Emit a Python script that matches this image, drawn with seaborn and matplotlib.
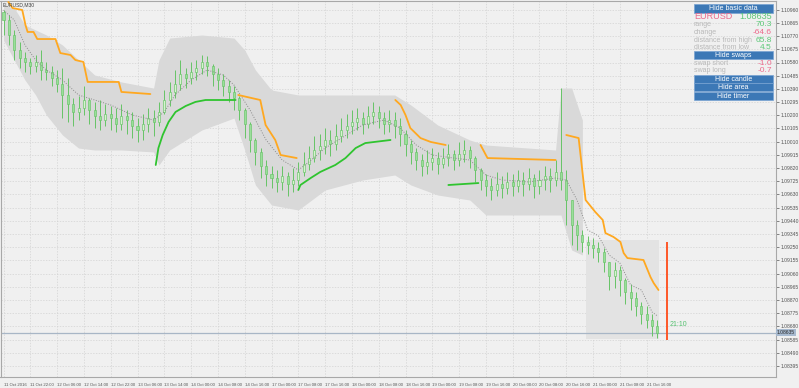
import numpy as np
import pandas as pd
import matplotlib
matplotlib.use("Agg")
import matplotlib.pyplot as plt
import seaborn as sns
from matplotlib.patches import Rectangle

# ---------------- data ----------------
symbol_label = "EURUSD,M30"
x_labels = ["11 Oct 2016", "11 Oct 22:00", "12 Oct 06:00", "12 Oct 14:00", "12 Oct 22:00",
            "13 Oct 06:00", "13 Oct 14:00", "14 Oct 00:00", "14 Oct 08:00", "14 Oct 16:00",
            "17 Oct 00:00", "17 Oct 08:00", "17 Oct 16:00", "18 Oct 00:00", "18 Oct 08:00",
            "18 Oct 16:00", "19 Oct 00:00", "19 Oct 08:00", "19 Oct 16:00", "20 Oct 00:00",
            "20 Oct 08:00", "20 Oct 16:00", "21 Oct 00:00", "21 Oct 08:00", "21 Oct 16:00"]
y_ticks = [1.10960, 1.10865, 1.10770, 1.10675, 1.10580, 1.10485, 1.10390, 1.10295, 1.10200,
           1.10105, 1.10010, 1.09915, 1.09820, 1.09725, 1.09630, 1.09535, 1.09440, 1.09345,
           1.09250, 1.09155, 1.09060, 1.08965, 1.08870, 1.08775, 1.08680, 1.08585, 1.08490,
           1.08395]

first_open = 1.10940
close = [1.10886, 1.10778, 1.10670, 1.10612, 1.10584, 1.10555, 1.10584, 1.10526, 1.10512, 1.10468,
         1.10425, 1.10346, 1.10281, 1.10224, 1.10252, 1.10310, 1.10238, 1.10195, 1.10166, 1.10209,
         1.10180, 1.10137, 1.10195, 1.10166, 1.10123, 1.10094, 1.10137, 1.10180, 1.10152, 1.10224,
         1.10310, 1.10368, 1.10425, 1.10497, 1.10468, 1.10512, 1.10540, 1.10584, 1.10555, 1.10497,
         1.10454, 1.10411, 1.10368, 1.10324, 1.10238, 1.10137, 1.10022, 1.09936, 1.09835, 1.09777,
         1.09748, 1.09720, 1.09763, 1.09705, 1.09734, 1.09792, 1.09849, 1.09892, 1.09950, 1.09979,
         1.10022, 1.09993, 1.10051, 1.10094, 1.10123, 1.10152, 1.10180, 1.10137, 1.10195, 1.10224,
         1.10180, 1.10137, 1.10166, 1.10123, 1.10065, 1.09993, 1.09936, 1.09878, 1.09835, 1.09864,
         1.09892, 1.09849, 1.09892, 1.09921, 1.09878, 1.09921, 1.09950, 1.09892, 1.09806, 1.09734,
         1.09691, 1.09662, 1.09705, 1.09676, 1.09720, 1.09691, 1.09734, 1.09705, 1.09748, 1.09691,
         1.09734, 1.09763, 1.09734, 1.09792, 1.09734, 1.09590, 1.09410, 1.09338, 1.09288, 1.09266,
         1.09244, 1.09216, 1.09144, 1.09043, 1.09086, 1.09014, 1.08928, 1.08884, 1.08827, 1.08769,
         1.08726, 1.08683, 1.08635]
high = [1.10958, 1.10922, 1.10814, 1.10728, 1.10656, 1.10612, 1.10634, 1.10670, 1.10584, 1.10555,
        1.10526, 1.10540, 1.10468, 1.10324, 1.10339, 1.10411, 1.10324, 1.10296, 1.10310, 1.10281,
        1.10267, 1.10252, 1.10281, 1.10238, 1.10224, 1.10180, 1.10209, 1.10252, 1.10238, 1.10296,
        1.10382, 1.10440, 1.10526, 1.10598, 1.10540, 1.10584, 1.10598, 1.10634, 1.10627, 1.10569,
        1.10540, 1.10497, 1.10454, 1.10411, 1.10339, 1.10252, 1.10152, 1.10036, 1.09964, 1.09878,
        1.09835, 1.09806, 1.09835, 1.09792, 1.09820, 1.09864, 1.09936, 1.09979, 1.10051, 1.10065,
        1.10108, 1.10094, 1.10137, 1.10180, 1.10209, 1.10238, 1.10252, 1.10224, 1.10267, 1.10296,
        1.10267, 1.10224, 1.10238, 1.10224, 1.10180, 1.10094, 1.10022, 1.09964, 1.09921, 1.09950,
        1.09964, 1.09936, 1.09964, 1.09993, 1.09950, 1.10008, 1.10022, 1.09979, 1.09907, 1.09820,
        1.09777, 1.09748, 1.09792, 1.09763, 1.09792, 1.09777, 1.09806, 1.09792, 1.09820, 1.09777,
        1.09806, 1.09835, 1.09820, 1.09878, 1.10396, 1.09806, 1.09590, 1.09446, 1.09374, 1.09331,
        1.09316, 1.09288, 1.09244, 1.09144, 1.09144, 1.09115, 1.09028, 1.08985, 1.08928, 1.08856,
        1.08827, 1.08769, 1.08726]
low = [1.10778, 1.10706, 1.10598, 1.10540, 1.10512, 1.10497, 1.10512, 1.10454, 1.10454, 1.10411,
       1.10368, 1.10180, 1.10152, 1.10123, 1.10166, 1.10202, 1.10137, 1.10108, 1.10094, 1.10123,
       1.10094, 1.10080, 1.10094, 1.10065, 1.10036, 1.10008, 1.10022, 1.10080, 1.10051, 1.10123,
       1.10209, 1.10267, 1.10324, 1.10382, 1.10396, 1.10425, 1.10454, 1.10497, 1.10483, 1.10411,
       1.10382, 1.10339, 1.10296, 1.10238, 1.10166, 1.10036, 1.09936, 1.09842, 1.09748, 1.09691,
       1.09676, 1.09648, 1.09662, 1.09619, 1.09648, 1.09691, 1.09763, 1.09806, 1.09864, 1.09878,
       1.09921, 1.09907, 1.09950, 1.10008, 1.10036, 1.10065, 1.10094, 1.10065, 1.10108, 1.10137,
       1.10108, 1.10065, 1.10080, 1.10036, 1.09979, 1.09907, 1.09849, 1.09806, 1.09763, 1.09777,
       1.09806, 1.09777, 1.09820, 1.09835, 1.09806, 1.09835, 1.09864, 1.09820, 1.09720, 1.09662,
       1.09619, 1.09590, 1.09619, 1.09604, 1.09633, 1.09619, 1.09648, 1.09619, 1.09662, 1.09604,
       1.09633, 1.09662, 1.09648, 1.09691, 1.09662, 1.09410, 1.09266, 1.09230, 1.09216, 1.09201,
       1.09172, 1.09144, 1.09072, 1.08942, 1.08956, 1.08899, 1.08841, 1.08798, 1.08755, 1.08697,
       1.08668, 1.08611, 1.08596]

# trailing stop line segments (bar position, price); "down" = orange above price, "up" = green below
stop_trend = ["down", "up", "down", "up", "down", "up", "down", "down"]
stop_idx = [
    [0.9, 1.7, 3.5, 4.1, 4.5, 5.6, 6.3, 9.7, 10.6, 12.5, 13.4, 14.9, 15.7, 21.5, 22.0, 27.4],
    [28.4, 28.9, 29.7, 30.8, 32.1, 34.0, 35.8, 37.7, 43.3],
    [43.8, 47.9, 48.9, 50.7, 51.7, 54.7],
    [55.0, 55.4, 57.3, 59.1, 61.9, 63.8, 65.7, 67.5, 72.2],
    [73.1, 74.1, 75.0, 75.9, 77.8, 79.7, 82.5],
    [83.0, 88.6],
    [89.0, 90.3, 103.0],
    [105.0, 107.3, 108.6, 110.4, 111.8, 112.3, 113.8, 115.1, 115.7, 116.4, 119.4, 120.7, 121.3, 122.2],
]
stop_val = [
    [1.11016, 1.10972, 1.10958, 1.10850, 1.10800, 1.10800, 1.10749, 1.10749, 1.10648, 1.10634,
     1.10598, 1.10584, 1.10440, 1.10440, 1.10368, 1.10353],
    [1.09842, 1.09964, 1.10058, 1.10152, 1.10224, 1.10267, 1.10296, 1.10310, 1.10310],
    [1.10346, 1.10310, 1.10130, 1.10022, 1.09914, 1.09892],
    [1.09662, 1.09698, 1.09748, 1.09792, 1.09842, 1.09892, 1.09964, 1.10000, 1.10022],
    [1.10310, 1.10274, 1.10202, 1.10108, 1.10036, 1.10008, 1.09986],
    [1.09698, 1.09712],
    [1.09986, 1.09892, 1.09878],
    [1.10058, 1.10036, 1.09590, 1.09504, 1.09446, 1.09352, 1.09324, 1.09288, 1.09208, 1.09172,
     1.09158, 1.09036, 1.08992, 1.08942],
]

# dotted middle line
mid_idx = [0, 2, 4, 6, 8, 11, 14, 17, 20, 24, 28, 30, 32, 35, 38, 41, 43, 46, 49, 52, 55, 57, 60,
           64, 67, 71, 74, 77, 80, 84, 87, 90, 93, 98, 103, 105, 107, 109, 111, 113, 115, 117, 119,
           121, 122]
mid_val = [1.10958, 1.10886, 1.10706, 1.10598, 1.10526, 1.10454, 1.10346, 1.10310, 1.10274, 1.10202,
           1.10166, 1.10224, 1.10346, 1.10454, 1.10526, 1.10490, 1.10418, 1.10238, 1.10022, 1.09878,
           1.09806, 1.09864, 1.09964, 1.10058, 1.10130, 1.10166, 1.10108, 1.09986, 1.09914, 1.09892,
           1.09878, 1.09770, 1.09734, 1.09720, 1.09748, 1.09734, 1.09590, 1.09374, 1.09331, 1.09194,
           1.09136, 1.08978, 1.08942, 1.08784, 1.08755]

# grey range area
band_idx = [0, 2, 4, 6, 8, 11, 14, 17, 22, 28, 29, 31, 37, 43, 45, 47, 50, 55, 60, 67, 73, 76, 81,
            87, 90, 103, 104, 106, 108]
band_top = [1.10994, 1.10972, 1.10850, 1.10814, 1.10778, 1.10706, 1.10598, 1.10490, 1.10440, 1.10396,
            1.10598, 1.10756, 1.10778, 1.10756, 1.10670, 1.10526, 1.10382, 1.10346, 1.10346, 1.10346,
            1.10346, 1.10274, 1.10130, 1.10022, 1.09986, 1.09950, 1.10396, 1.10396, 1.10166]
band_bot = [1.10742, 1.10598, 1.10454, 1.10346, 1.10202, 1.10058, 1.09964, 1.09950, 1.09950, 1.09936,
            1.09842, 1.09950, 1.10094, 1.10180, 1.09950, 1.09698, 1.09554, 1.09518, 1.09662, 1.09734,
            1.09770, 1.09698, 1.09626, 1.09590, 1.09482, 1.09482, 1.09482, 1.09230, 1.09194]

# today's area
day_start, day_end = 108.7, 122.3
day_high, day_low = 1.09300, 1.08590

bid = 1.08635
timer_pos, timer_top, timer_bottom = 123.7, 1.09288, 1.08582
timer_text = "21:10"

panel_buttons = ["Hide basic data", "Hide swaps", "Hide candle", "Hide area", "Hide timer"]
panel_labels = ["EURUSD", "range", "change", "distance from high", "distance from low",
                "swap short", "swap long"]
panel_values = ["1.08635", "70.3", "-64.6", "65.8", "4.5", "-1.0", "-0.7"]

# ---------------- style ----------------
sns.set_theme(style="white")
plt.rcParams['font.family'] = ['Liberation Sans', 'DejaVu Sans']

W, H = 799, 388
BG = '#f0f0f0'
fig = plt.figure(figsize=(W / 100, H / 100), dpi=100, facecolor=BG)
ax = fig.add_axes([0.5 / W, 11 / H, 775 / W, 376 / H])
ax.set_facecolor(BG)

n = len(close)
idx = np.arange(n)
opens = [first_open] + close[:-1]
df = pd.DataFrame({"i": idx, "open": opens, "high": high, "low": low, "close": close})

# grey areas
ax.fill_between([day_start, day_end], day_low, day_high, color='#e3e3e3', lw=0, zorder=1)
ax.fill_between(band_idx, band_bot, band_top, color='#d9d9d9', lw=0, zorder=1.2)

# candles
GREEN_EDGE = '#66c466'
ax.vlines(df["i"], df["low"], df["high"], color=GREEN_EDGE, lw=0.7, zorder=3)
body_lo = np.minimum(df["open"], df["close"])
body_h = np.maximum(np.abs(df["close"] - df["open"]), 0.00004)
bull = df["close"] >= df["open"]
ax.bar(df["i"], body_h, bottom=body_lo, width=0.38,
       color=np.where(bull, '#d6f3cf', '#9adf9a'), edgecolor=GREEN_EDGE, lw=0.45, zorder=4)

# middle dotted line
sns.lineplot(x=mid_idx, y=mid_val, ax=ax, color='#8c8c8c', lw=0.7, linestyle=(0, (1, 1.6)),
             estimator=None, sort=False, zorder=5)

# trailing stop lines
for trend, xs, ys in zip(stop_trend, stop_idx, stop_val):
    sns.lineplot(x=xs, y=ys, ax=ax, color='#ffa820' if trend == "down" else '#2fc42f',
                 lw=1.3, estimator=None, sort=False, zorder=6)

# bid line
ax.axhline(bid, color='#a8b6c6', lw=0.9, zorder=2)
ax.text(1.002, bid, f"{bid:.5f}", transform=ax.get_yaxis_transform(), ha='left', va='center',
        fontsize=3.6, color='#2a2a2a', zorder=10, clip_on=False,
        bbox=dict(boxstyle='square,pad=0.25', fc='#a7bad0', ec='none'))

# timer
ax.vlines(timer_pos, timer_bottom, timer_top, color='#ff4c1a', lw=1.3, zorder=6)
ax.text(timer_pos + 0.6, 1.08690, timer_text, color='#55c070', fontsize=5, va='center', ha='left')

# axes
ax.set_xlim(-0.56, 144.03)
ax.set_ylim(1.083156, 1.110228)
ax.set_xticks(np.arange(0, 5 * len(x_labels), 5))
ax.set_xticklabels(x_labels)
for lab in ax.get_xticklabels():
    lab.set_ha('left')
ax.yaxis.tick_right()
ax.set_yticks(y_ticks)
ax.set_yticklabels([f"{v:.5f}" for v in y_ticks])
ax.tick_params(axis='both', labelsize=3.6, colors='#555555', length=2.5, width=0.5, pad=1,
               direction='out')
ax.tick_params(axis='x', labelsize=3.1, pad=1.5)
ax.grid(True, color='#d2d2d2', lw=0.5, linestyle=(0, (2, 2)))
ax.set_axisbelow(True)
for s in ax.spines.values():
    s.set_color('#a8a8a8')
    s.set_linewidth(0.8)
ax.set_xlabel("")
ax.set_ylabel("")

# symbol caption
fig.text(3 / W, 1 - 2 / H, symbol_label, fontsize=3.6, color='#404040', va='top', ha='left')

# ---------------- info panel ----------------
def fx(px):
    return px / W


def fy(py):
    return 1 - py / H


btn_rows = [(4.5, 12.5), (51.5, 59), (75, 82.5), (83.5, 91), (92, 99.5)]
for text, (t, b) in zip(panel_buttons, btn_rows):
    fig.add_artist(Rectangle((fx(694), fy(b)), fx(773) - fx(694), (b - t) / H,
                             transform=fig.transFigure, fc='#3c78b6', ec='#77a3d2', lw=0.5))
    fig.text(fx(733.5), fy((t + b) / 2 + 0.3), text, color='white', fontsize=5,
             ha='center', va='center')

row_y = [16.5, 24.5, 32, 40, 47.5, 63.5, 71]
PINK, GRN, GREY = '#ec6a8c', '#5cc878', '#b8b8b8'
val_colors = [GRN, GRN, PINK, GRN, GRN, PINK, PINK]
for k, (lab, val, yy) in enumerate(zip(panel_labels, panel_values, row_y)):
    fig.text(fx(694), fy(yy), lab, color=PINK if k == 0 else GREY,
             fontsize=6.5 if k == 0 else 5, ha='left', va='center')
    fig.text(fx(772), fy(yy), val, color=val_colors[k], fontsize=6.5 if k == 0 else 6,
             ha='right', va='center')

fig.savefig("out.png", dpi=100, facecolor=BG)
